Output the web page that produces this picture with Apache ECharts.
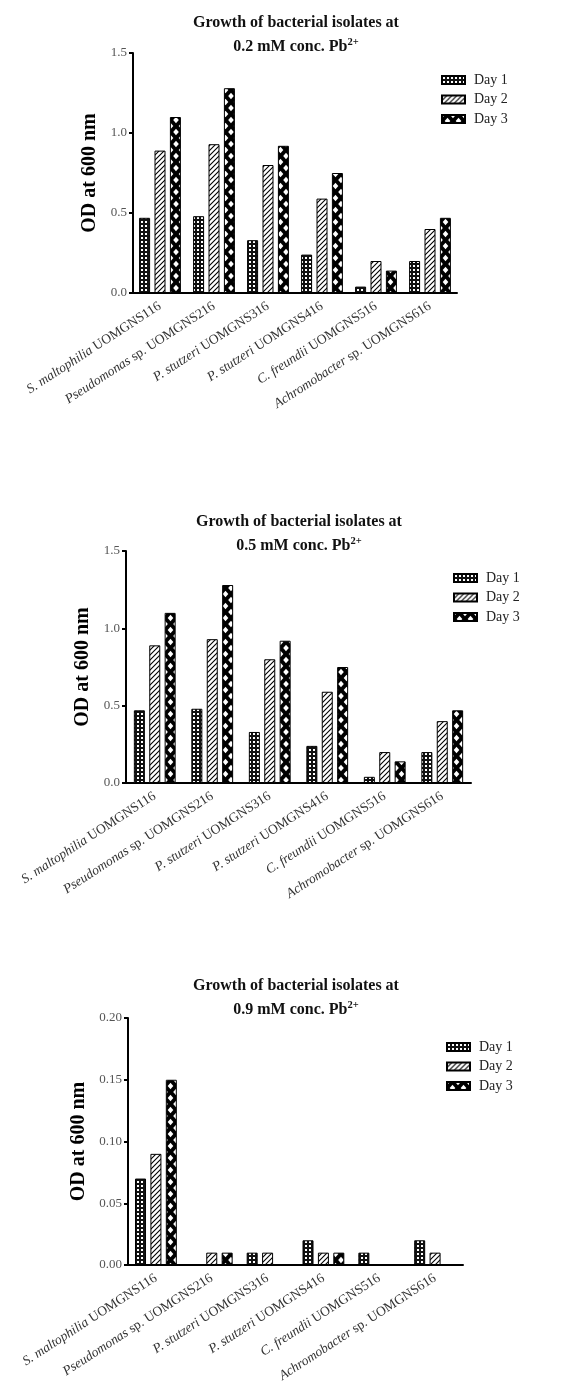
<!DOCTYPE html>
<html><head><meta charset="utf-8">
<script src="https://cdn.jsdelivr.net/npm/echarts@6/dist/echarts.min.js"></script>
<style>html,body{margin:0;padding:0;background:#fff}#c{width:582px;height:1393px}</style>
</head><body><div id="c"></div>
<script>
// ---- data ----
const speciesItalic = ['S. maltophilia', 'Pseudomonas', 'P. stutzeri', 'P. stutzeri', 'C. freundii', 'Achromobacter'];
const strainPlain = ['UOMGNS116', 'sp. UOMGNS216', 'UOMGNS316', 'UOMGNS416', 'UOMGNS516', 'sp. UOMGNS616'];
const categories = speciesItalic.map((s, i) => s + ' ' + strainPlain[i]);
const seriesNames = ['Day 1', 'Day 2', 'Day 3'];

const conc02Day1 = [0.47, 0.48, 0.33, 0.24, 0.04, 0.20];
const conc02Day2 = [0.89, 0.93, 0.80, 0.59, 0.20, 0.40];
const conc02Day3 = [1.10, 1.28, 0.92, 0.75, 0.14, 0.47];

const conc05Day1 = [0.47, 0.48, 0.33, 0.24, 0.04, 0.20];
const conc05Day2 = [0.89, 0.93, 0.80, 0.59, 0.20, 0.40];
const conc05Day3 = [1.10, 1.28, 0.92, 0.75, 0.14, 0.47];

const conc09Day1 = [0.07, 0, 0.01, 0.02, 0.01, 0.02];
const conc09Day2 = [0.09, 0.01, 0.01, 0.01, 0, 0.01];
const conc09Day3 = [0.15, 0.01, 0, 0.01, 0, 0];

const concLabels = ['0.2', '0.5', '0.9'];
const yMax = [1.5, 1.5, 0.20];
const yInterval = [0.5, 0.5, 0.05];
const yDecimals = [1, 1, 2];
const yAxisName = 'OD at 600 nm';

const panelData = [
  [conc02Day1, conc02Day2, conc02Day3],
  [conc05Day1, conc05Day2, conc05Day3],
  [conc09Day1, conc09Day2, conc09Day3]
];

// ---- layout ----
const grids = [
  { left: 133, top: 53, width: 324, height: 240 },
  { left: 126, top: 551, width: 345, height: 232 },
  { left: 128, top: 1018, width: 335, height: 247 }
];
const titleTop = [11, 510, 974];
const titleCx = [296, 299, 296];
const nameGaps = [27, 32, 32];
const legendPos = [
  { left: 436, top: 68 },
  { left: 448, top: 566 },
  { left: 441, top: 1035 }
];

// ---- patterns ----
function mk(w, h, draw) {
  const c = document.createElement('canvas');
  c.width = w; c.height = h;
  draw(c.getContext('2d'), w, h);
  return c;
}
const pat1 = mk(4, 4, (g) => {
  g.fillStyle = '#111'; g.fillRect(0, 0, 4, 4);
  g.fillStyle = '#fff'; g.fillRect(1, 1, 2, 2);
});
const pat2 = mk(5, 5, (g) => {
  g.fillStyle = '#fff'; g.fillRect(0, 0, 5, 5);
  g.strokeStyle = '#000'; g.lineWidth = 1.1;
  g.beginPath();
  g.moveTo(-1, 6); g.lineTo(6, -1);
  g.moveTo(-1, 1); g.lineTo(1, -1);
  g.moveTo(4, 6); g.lineTo(6, 4);
  g.stroke();
});
const pat3 = mk(11, 12, (g) => {
  g.fillStyle = '#000'; g.fillRect(0, 0, 11, 12);
  g.fillStyle = '#fff';
  const d = (cx, cy) => {
    g.beginPath();
    g.moveTo(cx, cy - 3.2); g.lineTo(cx + 2.8, cy); g.lineTo(cx, cy + 3.2); g.lineTo(cx - 2.8, cy);
    g.closePath(); g.fill();
  };
  d(5.5, 6); d(0, 0); d(11, 0); d(0, 12); d(11, 12);
});
const patterns = [pat1, pat2, pat3];

const serif = 'Liberation Serif';

const option = {
  animation: false,
  backgroundColor: '#fff',
  title: [], legend: [], grid: [], xAxis: [], yAxis: [], series: []
};

for (let k = 0; k < 3; k++) {
  option.title.push({
    left: titleCx[k],
    textAlign: 'center',
    top: titleTop[k],
    padding: 0,
    text: '{b|Growth of bacterial isolates at}\n{b|' + concLabels[k] + ' mM conc. Pb}{s|2+}',
    textStyle: {
      rich: {
        b: { fontFamily: serif, fontWeight: 'bold', fontSize: 16, color: '#111', lineHeight: 24 },
        s: { fontFamily: serif, fontWeight: 'bold', fontSize: 10.5, color: '#111', padding: [0, 0, 9, 0] }
      }
    }
  });
  option.legend.push({
    orient: 'vertical',
    left: legendPos[k].left,
    top: legendPos[k].top,
    itemWidth: 23, itemHeight: 8, itemGap: 5.5,
    icon: 'rect',
    data: seriesNames,
    selectedMode: false,
    textStyle: { fontFamily: serif, fontSize: 14, color: '#222', padding: [0, 0, 0, 4] }
  });
  option.grid.push(Object.assign({ containLabel: false }, grids[k]));
  option.xAxis.push({
    type: 'category', gridIndex: k, data: categories,
    axisLine: { lineStyle: { color: '#000', width: 2 } },
    axisTick: { alignWithLabel: true, length: 5, lineStyle: { color: '#000', width: 2 } },
    axisLabel: {
      interval: 0, rotate: 33, margin: 12,
      formatter: (v, i) => '{i|' + speciesItalic[i] + '} {n|' + strainPlain[i] + '}',
      rich: {
        i: { fontFamily: serif, fontStyle: 'italic', fontSize: 13.5, color: '#333' },
        n: { fontFamily: serif, fontSize: 13.5, color: '#333' }
      }
    }
  });
  option.yAxis.push({
    type: 'value', gridIndex: k, min: 0, max: yMax[k], interval: yInterval[k],
    name: yAxisName, nameLocation: 'middle', nameGap: nameGaps[k],
    nameTextStyle: { fontFamily: serif, fontWeight: 'bold', fontSize: 20, color: '#000' },
    axisLine: { show: true, lineStyle: { color: '#000', width: 2 } },
    axisTick: { show: true, length: 4, lineStyle: { color: '#000', width: 2 } },
    splitLine: { show: false },
    axisLabel: {
      margin: 6, fontFamily: serif, fontSize: 13, color: '#555',
      formatter: (v) => v.toFixed(yDecimals[k])
    }
  });
  for (let d = 0; d < 3; d++) {
    option.series.push({
      type: 'bar', name: seriesNames[d], xAxisIndex: k, yAxisIndex: k,
      data: panelData[k][d],
      barWidth: 11, barGap: '40%',
      itemStyle: { color: { image: patterns[d], repeat: 'repeat' }, borderColor: '#000', borderWidth: 1 },
      emphasis: { disabled: true }
    });
  }
}

const chart = echarts.init(document.getElementById('c'), null, { renderer: 'canvas' });
chart.setOption(option);
</script>
</body></html>
